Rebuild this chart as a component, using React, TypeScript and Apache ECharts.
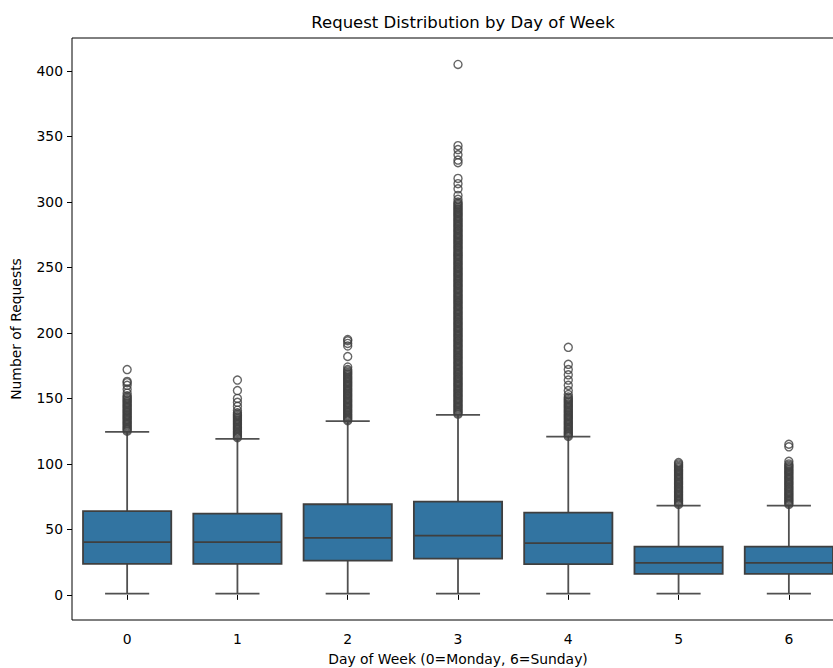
import React, { useEffect, useRef } from "react";
import * as echarts from "echarts";

const days = ["0", "1", "2", "3", "4", "5", "6"];
const lowWhisker = [1, 1, 1, 1, 1, 1, 1];
const q1 = [23.7, 23.7, 26.2, 27.7, 23.4, 16, 16];
const median = [40.2, 40.2, 43.5, 45.3, 39.5, 24.4, 24.4];
const q3 = [63.9, 62.1, 69.2, 71.2, 62.8, 36.9, 36.9];
const highWhisker = [124.4, 119.1, 132.6, 137.4, 120.8, 68.2, 68.2];

const outliers0 = [125, 126, 127, 128, 129, 130, 131, 132, 133, 134, 135, 136, 137, 138, 139, 140, 141, 142, 143, 144, 145, 146, 147, 148, 149, 150, 151, 152, 154, 157, 160, 162, 163, 172];
const outliers1 = [120, 121, 122, 123, 124, 125, 126, 127, 128, 129, 130, 131, 132, 133, 134, 135, 136, 137, 138, 139, 141, 144, 147, 150, 156, 164];
const outliers2 = [133, 134, 135, 136, 137, 138, 139, 140, 141, 142, 143, 144, 145, 146, 147, 148, 149, 150, 151, 152, 153, 154, 155, 156, 157, 158, 159, 160, 161, 162, 163, 164, 165, 166, 167, 168, 169, 170, 171, 172, 174, 182, 190, 192, 194, 195];
const outliers3 = [138, 139, 140, 141, 142, 143, 144, 145, 146, 147, 148, 149, 150, 151, 152, 153, 154, 155, 156, 157, 158, 159, 160, 161, 162, 163, 164, 165, 166, 167, 168, 169, 170, 171, 172, 173, 174, 175, 176, 177, 178, 179, 180, 181, 182, 183, 184, 185, 186, 187, 188, 189, 190, 191, 192, 193, 194, 195, 196, 197, 198, 199, 200, 201, 202, 203, 204, 205, 206, 207, 208, 209, 210, 211, 212, 213, 214, 215, 216, 217, 218, 219, 220, 221, 222, 223, 224, 225, 226, 227, 228, 229, 230, 231, 232, 233, 234, 235, 236, 237, 238, 239, 240, 241, 242, 243, 244, 245, 246, 247, 248, 249, 250, 251, 252, 253, 254, 255, 256, 257, 258, 259, 260, 261, 262, 263, 264, 265, 266, 267, 268, 269, 270, 271, 272, 273, 274, 275, 276, 277, 278, 279, 280, 281, 282, 283, 284, 285, 286, 287, 288, 289, 290, 291, 292, 293, 294, 295, 296, 297, 298, 299, 300, 302, 305, 310, 314, 318, 330, 332, 336, 340, 343, 405];
const outliers4 = [121, 122, 123, 124, 125, 126, 127, 128, 129, 130, 131, 132, 133, 134, 135, 136, 137, 138, 139, 140, 141, 142, 143, 144, 145, 146, 147, 148, 149, 150, 151, 153, 156, 160, 164, 168, 172, 176, 189];
const outliers5 = [69, 70, 71, 72, 73, 74, 75, 76, 77, 78, 79, 80, 81, 82, 83, 84, 85, 86, 87, 88, 89, 90, 91, 92, 93, 94, 95, 96, 97, 98, 99, 100, 101];
const outliers6 = [69, 70, 71, 72, 73, 74, 75, 76, 77, 78, 79, 80, 81, 82, 83, 84, 85, 86, 87, 88, 89, 90, 91, 92, 93, 94, 95, 96, 97, 98, 99, 100, 102, 113, 115];

const yTicks = [0, 50, 100, 150, 200, 250, 300, 350, 400];

const allOutliers = [outliers0, outliers1, outliers2, outliers3, outliers4, outliers5, outliers6];

const LINE = "#3f3f3f";
const FILL = "#3274a1";
const FONT = "DejaVu Sans";

export default function App() {
  const ref = useRef<HTMLDivElement>(null);
  useEffect(() => {
    if (!ref.current) return;
    const chart = echarts.init(ref.current, null, { renderer: "svg" });
    const boxData = days.map((_, i) => [i, lowWhisker[i], q1[i], median[i], q3[i], highWhisker[i]]);
    const outData: number[][] = [];
    allOutliers.forEach((arr, i) => arr.forEach((v) => outData.push([i, v])));
    chart.setOption({
      animation: false,
      backgroundColor: "#fff",
      title: {
        text: "Request Distribution by Day of Week",
        left: 458,
        top: 9,
        textAlign: "center",
        textStyle: { fontFamily: FONT, fontSize: 16.5, fontWeight: "normal", color: "#000" },
      },
      grid: {
        left: 72,
        right: -11,
        top: 38,
        bottom: 48,
        outerBoundsMode: "none",
        containLabel: false,
        show: true,
        borderColor: "#000",
        borderWidth: 1,
        backgroundColor: "transparent",
      },
      xAxis: {
        type: "category",
        data: days,
        boundaryGap: true,
        name: "Day of Week (0=Monday, 6=Sunday)",
        nameLocation: "middle",
        nameGap: 32,
        nameTextStyle: { fontFamily: FONT, fontSize: 13.9, color: "#000" },
        axisLine: { show: false },
        axisTick: { show: true, alignWithLabel: true, length: 5, lineStyle: { color: "#000", width: 1 } },
        axisLabel: { fontFamily: FONT, fontSize: 13.9, color: "#000", margin: 12 },
        splitLine: { show: false },
      },
      yAxis: {
        type: "value",
        min: -19.2,
        max: 425.2,
        name: "Number of Requests",
        nameLocation: "middle",
        nameGap: 49,
        nameTextStyle: { fontFamily: FONT, fontSize: 13.9, color: "#000" },
        axisLine: { show: false },
        axisTick: { show: true, length: 5, customValues: yTicks, lineStyle: { color: "#000", width: 1 } },
        axisLabel: { fontFamily: FONT, fontSize: 13.9, color: "#000", margin: 9, customValues: yTicks },
        splitLine: { show: false },
      },
      series: [
        {
          type: "custom",
          data: boxData,
          encode: { x: 0, y: [1, 2, 3, 4, 5] },
          renderItem: (params: any, api: any) => {
            const x = api.value(0);
            const low = api.coord([x, api.value(1)]);
            const p1 = api.coord([x, api.value(2)]);
            const pm = api.coord([x, api.value(3)]);
            const p3 = api.coord([x, api.value(4)]);
            const high = api.coord([x, api.value(5)]);
            const band = api.size([1, 0])[0];
            const bw = band * 0.8;
            const cw = band * 0.4;
            const cx = low[0];
            const ws = { stroke: "#505050", lineWidth: 1.8 };
            const ls = { stroke: LINE, lineWidth: 1.8 };
            return {
              type: "group",
              children: [
                { type: "line", shape: { x1: cx, y1: p3[1], x2: cx, y2: high[1] }, style: ws },
                { type: "line", shape: { x1: cx, y1: p1[1], x2: cx, y2: low[1] }, style: ws },
                { type: "line", shape: { x1: cx - cw / 2, y1: high[1], x2: cx + cw / 2, y2: high[1] }, style: ws },
                { type: "line", shape: { x1: cx - cw / 2, y1: low[1], x2: cx + cw / 2, y2: low[1] }, style: ws },
                {
                  type: "rect",
                  shape: { x: cx - bw / 2, y: p3[1], width: bw, height: p1[1] - p3[1] },
                  style: { fill: FILL, stroke: LINE, lineWidth: 1.8 },
                },
                { type: "line", shape: { x1: cx - bw / 2, y1: pm[1], x2: cx + bw / 2, y2: pm[1] }, style: ls },
              ],
            };
          },
        },
        {
          type: "scatter",
          data: outData,
          symbol: "circle",
          symbolSize: 8,
          itemStyle: { color: "rgba(0,0,0,0)", borderColor: LINE, borderWidth: 1.4 },
          emphasis: { disabled: true },
        },
      ],
    });
    return () => chart.dispose();
  }, []);
  return <div ref={ref} style={{ position: "fixed", left: 0, top: 0, width: 833, height: 668, overflow: "hidden" }} />;
}
